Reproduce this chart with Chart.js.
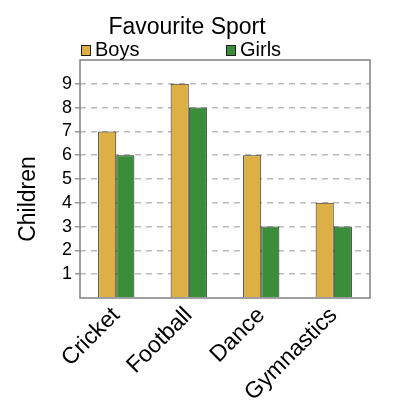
<!DOCTYPE html>
<html>
<head>
<meta charset="utf-8">
<script src="https://cdn.jsdelivr.net/npm/chart.js@4"></script>
<style>
  body { margin: 0; background: #fff; }
</style>
</head>
<body>
<canvas id="sport" width="400" height="400"></canvas>
<script>
var sports = ['Cricket', 'Football', 'Dance', 'Gymnastics'];
var boys = [7, 9, 6, 4];
var girls = [6, 8, 3, 3];
var yTickLabels = [1, 2, 3, 4, 5, 6, 7, 8, 9];

var FONT = '"Liberation Sans", Arial, sans-serif';

// title, legend, y title and the box round the plot
var extras = {
    id: 'extras',
    afterDraw: function (chart) {
        var c = chart.ctx, a = chart.chartArea;
        c.save();
        c.strokeStyle = '#808080';
        c.lineWidth = 1.5;
        c.strokeRect(a.left, a.top, a.right - a.left, a.bottom - a.top);

        c.fillStyle = '#000';
        c.textAlign = 'center';
        c.textBaseline = 'alphabetic';
        c.font = '23px ' + FONT;
        c.fillText('Favourite Sport', 187, 34);

        var items = [[chart.data.datasets[0], 81], [chart.data.datasets[1], 226]];
        c.font = '20px ' + FONT;
        c.textAlign = 'left';
        items.forEach(function (it) {
            c.fillStyle = it[0].backgroundColor;
            c.fillRect(it[1], 45, 9, 10);
            c.strokeStyle = '#222';
            c.lineWidth = 1;
            c.strokeRect(it[1] + 0.5, 45.5, 9, 10);
            c.fillStyle = '#000';
            c.fillText(it[0].label, it[1] + 14, 56);
        });

        c.translate(35, 199);
        c.rotate(-Math.PI / 2);
        c.textAlign = 'center';
        c.font = '23px ' + FONT;
        c.fillText('Children', 0, 0);
        c.restore();
    }
};

var ctx = document.getElementById('sport').getContext('2d');
var chart = new Chart(ctx, {
    type: 'bar',
    data: {
        labels: sports,
        datasets: [{
            label: 'Boys',
            backgroundColor: '#dcb044',
            borderColor: '#2a2a20',
            borderWidth: 1,
            data: boys
        }, {
            label: 'Girls',
            backgroundColor: '#3a8e3a',
            borderColor: '#1a2a1a',
            borderWidth: 1,
            data: girls
        }]
    },
    options: {
        responsive: false,
        animation: false,
        layout: { padding: { top: 60, right: 30, left: 0, bottom: 0 } },
        datasets: { bar: { categoryPercentage: 0.5, barPercentage: 1.0 } },
        plugins: {
            legend: { display: false },
            title: { display: false },
            tooltip: { enabled: false }
        },
        scales: {
            x: {
                afterFit: function (s) { s.height = 102; },
                grid: { display: false, drawTicks: false },
                border: { display: false },
                ticks: {
                    minRotation: 45, maxRotation: 45,
                    padding: 4,
                    color: '#000',
                    font: { size: 23, family: FONT }
                }
            },
            y: {
                min: 0, max: 10,
                afterFit: function (s) { s.width = 80; },
                border: { display: false, dash: [6, 5] },
                grid: {
                    color: function (c) {
                        return yTickLabels.indexOf(c.tick.value) >= 0 ? '#bbbbbb' : 'rgba(0,0,0,0)';
                    },
                    lineWidth: 1.5,
                    tickLength: 5,
                    tickBorderDash: [],
                    tickColor: function (c) {
                        return yTickLabels.indexOf(c.tick.value) >= 0 ? '#999999' : 'rgba(0,0,0,0)';
                    }
                },
                ticks: {
                    stepSize: 1,
                    autoSkip: false,
                    padding: 3,
                    color: '#000',
                    font: { size: 18, family: FONT },
                    callback: function (v) {
                        return yTickLabels.indexOf(v) >= 0 ? String(v) : '';
                    }
                }
            }
        }
    },
    plugins: [extras]
});
</script>
</body>
</html>
